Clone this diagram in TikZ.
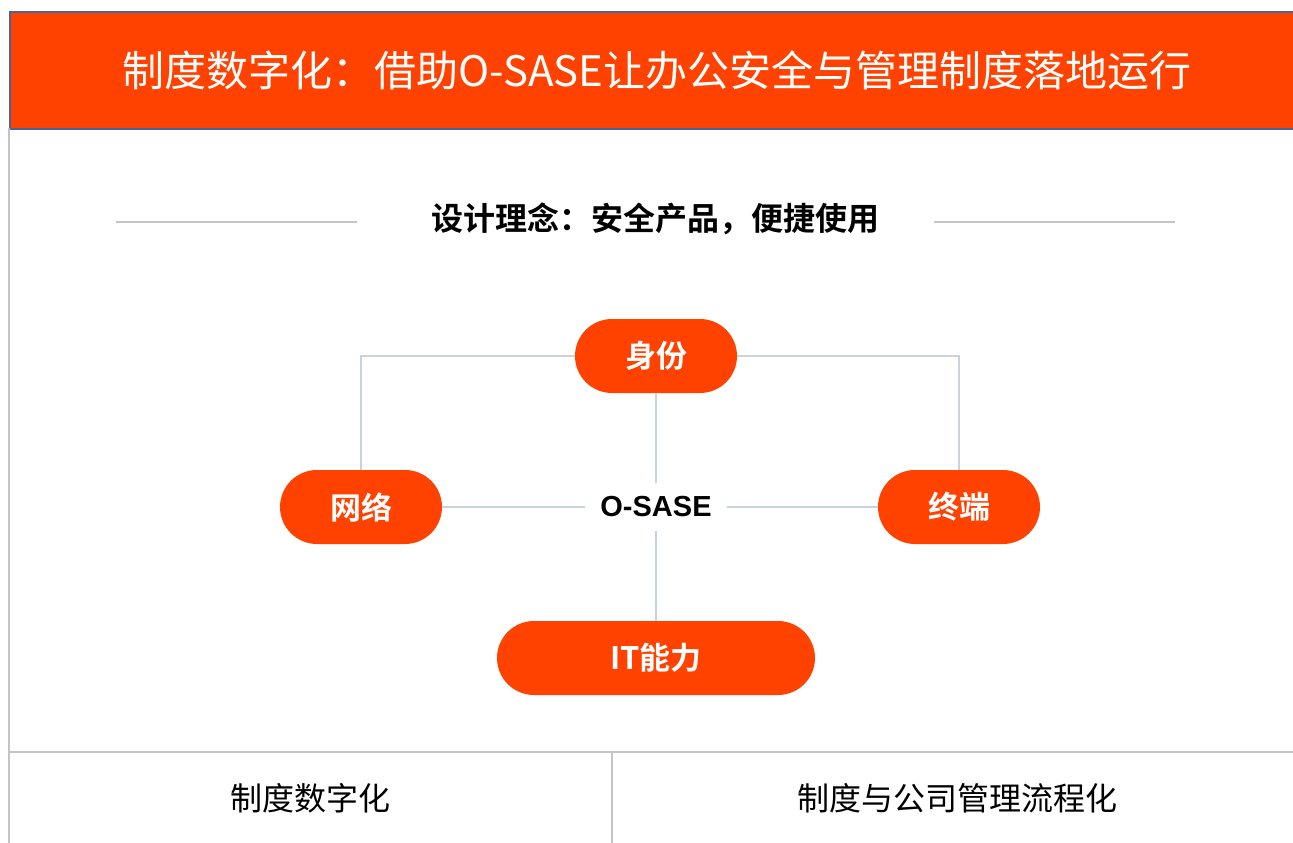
\documentclass[tikz,border=0pt]{standalone}
\usepackage{fontspec}
\newfontfamily\cjk{Noto Sans CJK SC}
\newfontfamily\cjkb{Noto Sans CJK SC Bold}
\newfontfamily\latb{Liberation Sans}
\definecolor{orng}{HTML}{FF4200}
\definecolor{hdrborder}{HTML}{4A6494}
\definecolor{conn}{HTML}{C9D3E0}
\definecolor{sep}{HTML}{C4C4C4}
\begin{document}
\begin{tikzpicture}[x=1pt,y=-1pt,
  pill/.style={fill=orng, rounded corners=37pt, minimum width=162pt, minimum height=74pt, inner sep=0pt, text=white, font=\cjkb\fontsize{31}{36}\selectfont},
  link/.style={draw=conn, line width=1.2pt},
  sepline/.style={draw=sep, line width=2pt},
  cell/.style={font=\cjk\fontsize{32}{38}\selectfont, text=black}]
\useasboundingbox (0,0) rectangle (1293,843);
\fill[white] (0,0) rectangle (1293,843);
% header
\node[draw=hdrborder, line width=2.2pt, fill=orng, minimum width=1300pt, minimum height=117pt, inner sep=0pt, anchor=north west] (hdr) at (9,11) {};
\node[text=white, font=\cjk\fontsize{42}{48}\selectfont] (title) at (657,70) {制度数字化：借助O-SASE让办公安全与管理制度落地运行};
% left border
\draw[sepline] (9,128) -- (9,843);
% subtitle
\node[font=\cjkb\fontsize{32}{38}\selectfont] (sub) at (655,219) {设计理念：安全产品，便捷使用};
\coordinate (l1) at (116,222); \coordinate (l2) at (357,222);
\coordinate (r1) at (934,222); \coordinate (r2) at (1175,222);
\draw[sepline] (l1) -- (l2);
\draw[sepline] (r1) -- (r2);
% nodes
\node[pill] (id) at (656,356) {身份};
\node[pill] (net) at (361,507) {网络};
\node[pill] (term) at (959,507) {终端};
\node[pill, minimum width=318pt] (it) at (656,658) {IT能力};
\node[font=\latb\bfseries\fontsize{29}{34}\selectfont, inner xsep=15pt, inner ysep=14pt] (core) at (656,507) {O-SASE};
% connectors
\draw[link] (id.west) -| (net.north);
\draw[link] (id.east) -| (term.north);
\draw[link] (id.south) -- (core.north);
\draw[link] (core.south) -- (it.north);
\draw[link] (net.east) -- (core.west);
\draw[link] (core.east) -- (term.west);
% bottom table
\coordinate (t1) at (9,752); \coordinate (t2) at (1293,752);
\coordinate (v1) at (612,752); \coordinate (v2) at (612,843);
\draw[sepline] (t1) -- (t2);
\draw[sepline] (v1) -- (v2);
\node[cell] (c1) at (310,798) {制度数字化};
\node[cell] (c2) at (957,798) {制度与公司管理流程化};
\end{tikzpicture}
\end{document}
